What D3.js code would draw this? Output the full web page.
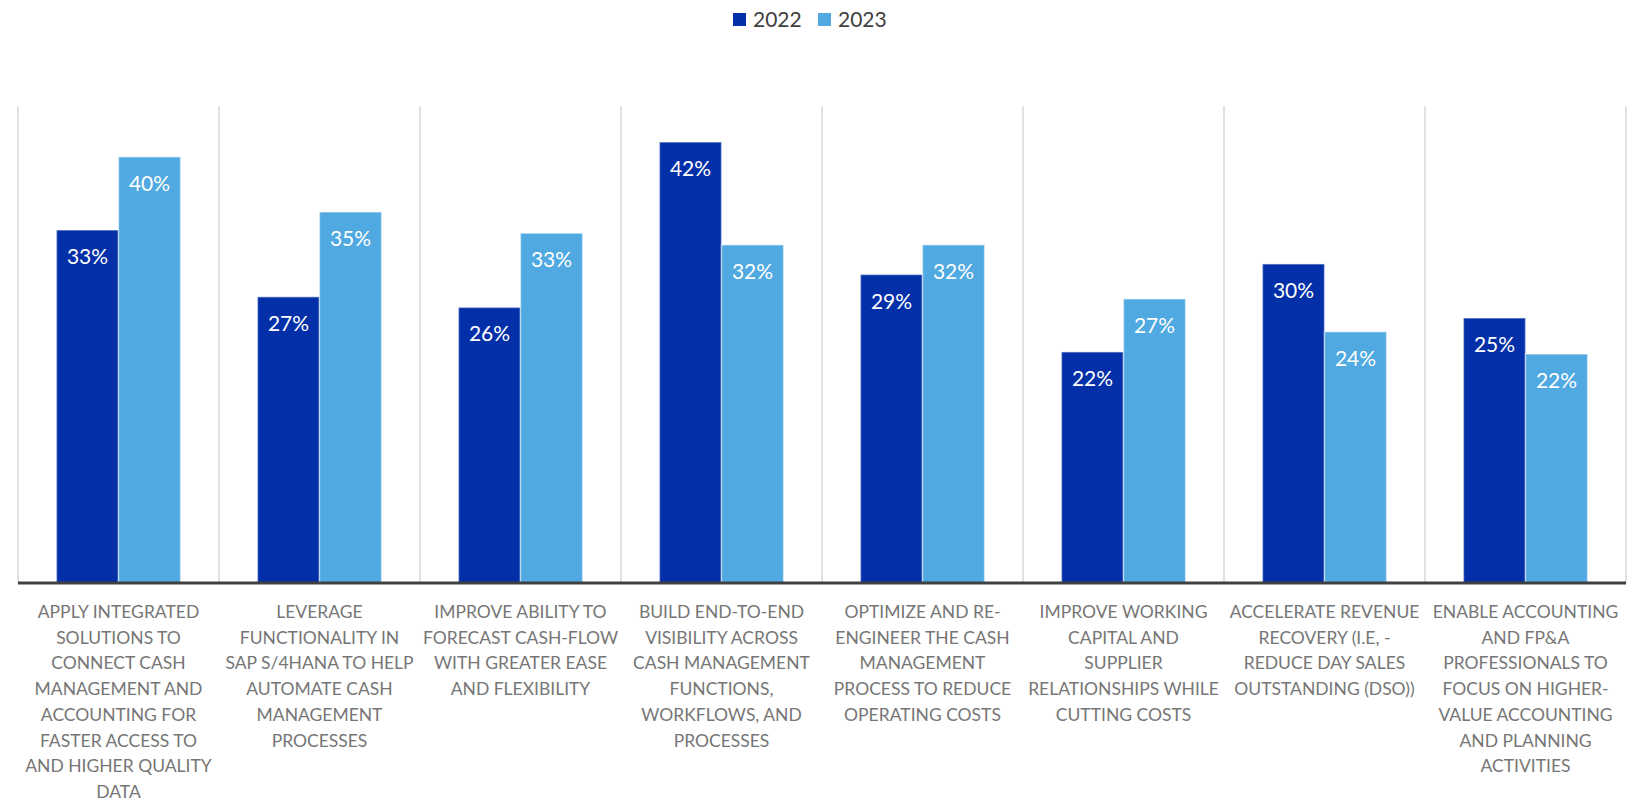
<!DOCTYPE html>
<html>
<head>
<meta charset="utf-8">
<script src="https://cdn.jsdelivr.net/npm/d3@7"></script>
<style>
  body { margin: 0; background: #fff; }
  svg { display: block; }
</style>
</head>
<body>
<script>
var categories = [
  ["APPLY INTEGRATED", "SOLUTIONS TO", "CONNECT CASH", "MANAGEMENT AND", "ACCOUNTING FOR", "FASTER ACCESS TO", "AND HIGHER QUALITY", "DATA"],
  ["LEVERAGE", "FUNCTIONALITY IN", "SAP S/4HANA TO HELP", "AUTOMATE CASH", "MANAGEMENT", "PROCESSES"],
  ["IMPROVE ABILITY TO", "FORECAST CASH-FLOW", "WITH GREATER EASE", "AND FLEXIBILITY"],
  ["BUILD END-TO-END", "VISIBILITY ACROSS", "CASH MANAGEMENT", "FUNCTIONS,", "WORKFLOWS, AND", "PROCESSES"],
  ["OPTIMIZE AND RE-", "ENGINEER THE CASH", "MANAGEMENT", "PROCESS TO REDUCE", "OPERATING COSTS"],
  ["IMPROVE WORKING", "CAPITAL AND", "SUPPLIER", "RELATIONSHIPS WHILE", "CUTTING COSTS"],
  ["ACCELERATE REVENUE", "RECOVERY (I.E, -", "REDUCE DAY SALES", "OUTSTANDING (DSO))"],
  ["ENABLE ACCOUNTING", "AND FP&A", "PROFESSIONALS TO", "FOCUS ON HIGHER-", "VALUE ACCOUNTING", "AND PLANNING", "ACTIVITIES"]
];
var series = ["2022", "2023"];
var values2022 = [33.3, 27.0, 26.0, 41.6, 29.1, 21.8, 30.1, 25.0];
var values2023 = [40.2, 35.0, 33.0, 31.9, 31.9, 26.8, 23.7, 21.6];
var colors = ["#0330A8", "#50A9E0"];

var width = 1641, height = 806;
var plotLeft = 18, plotRight = 1626, plotTop = 106, plotBottom = 583;

var svg = d3.select("body").append("svg")
  .attr("width", width)
  .attr("height", height);

var x = d3.scaleBand()
  .domain(d3.range(categories.length))
  .range([plotLeft, plotRight]);

var xs = d3.scaleBand()
  .domain(series)
  .range([0, x.bandwidth()])
  .paddingOuter(0.62);

var y = d3.scaleLinear()
  .domain([0, 45])
  .range([plotBottom, plotTop]);

var font = "Lato, 'Open Sans', sans-serif";

// vertical separators between categories
svg.append("g")
  .selectAll("line")
  .data(d3.range(categories.length + 1))
  .enter()
  .append("line")
  .attr("x1", function(d) { return plotLeft + d * x.step(); })
  .attr("x2", function(d) { return plotLeft + d * x.step(); })
  .attr("y1", plotTop)
  .attr("y2", plotBottom)
  .attr("stroke", "#d9d9d9")
  .attr("stroke-width", 1.5);

var data = [];
categories.forEach(function(c, i) {
  data.push({ i: i, s: "2022", v: values2022[i] });
  data.push({ i: i, s: "2023", v: values2023[i] });
});

svg.append("g")
  .selectAll("rect")
  .data(data)
  .enter()
  .append("rect")
  .attr("x", function(d) { return x(d.i) + xs(d.s); })
  .attr("y", function(d) { return y(d.v); })
  .attr("width", xs.bandwidth())
  .attr("height", function(d) { return plotBottom - y(d.v); })
  .attr("fill", function(d) { return colors[series.indexOf(d.s)]; })
  .attr("stroke", "rgba(255,255,255,0.45)")
  .attr("stroke-width", 1.5);

// value labels
svg.append("g")
  .selectAll("text")
  .data(data)
  .enter()
  .append("text")
  .attr("x", function(d) { return x(d.i) + xs(d.s) + xs.bandwidth() / 2; })
  .attr("y", function(d) { return y(d.v) + 34; })
  .attr("text-anchor", "middle")
  .attr("fill", "#fff")
  .style("font-family", font)
  .style("font-size", "21px")
  .text(function(d) { return Math.round(d.v) + "%"; });

// baseline axis
svg.append("line")
  .attr("x1", plotLeft)
  .attr("x2", plotRight)
  .attr("y1", plotBottom)
  .attr("y2", plotBottom)
  .attr("stroke", "#404040")
  .attr("stroke-width", 3);

// category labels
var labels = svg.append("g")
  .selectAll("text")
  .data(categories)
  .enter()
  .append("text")
  .attr("text-anchor", "middle")
  .attr("fill", "#767676")
  .style("font-family", font)
  .style("font-size", "17.5px");

labels.selectAll("tspan")
  .data(function(d, i) { return d.map(function(t) { return { t: t, i: i }; }); })
  .enter()
  .append("tspan")
  .attr("x", function(d) { return x(d.i) + x.bandwidth() / 2; })
  .attr("y", function(d, j) { return 618 + j * 25.7; })
  .text(function(d) { return d.t; });

// legend
var legend = svg.append("g")
  .selectAll("g")
  .data(series)
  .enter()
  .append("g")
  .attr("transform", function(d, i) { return "translate(" + (733 + i * 85) + ",0)"; });

legend.append("rect")
  .attr("x", 0)
  .attr("y", 13)
  .attr("width", 13)
  .attr("height", 13)
  .attr("fill", function(d, i) { return colors[i]; });

legend.append("text")
  .attr("x", 20)
  .attr("y", 27)
  .attr("fill", "#404040")
  .style("font-family", font)
  .style("font-size", "21px")
  .text(function(d) { return d; });
</script>
</body>
</html>
